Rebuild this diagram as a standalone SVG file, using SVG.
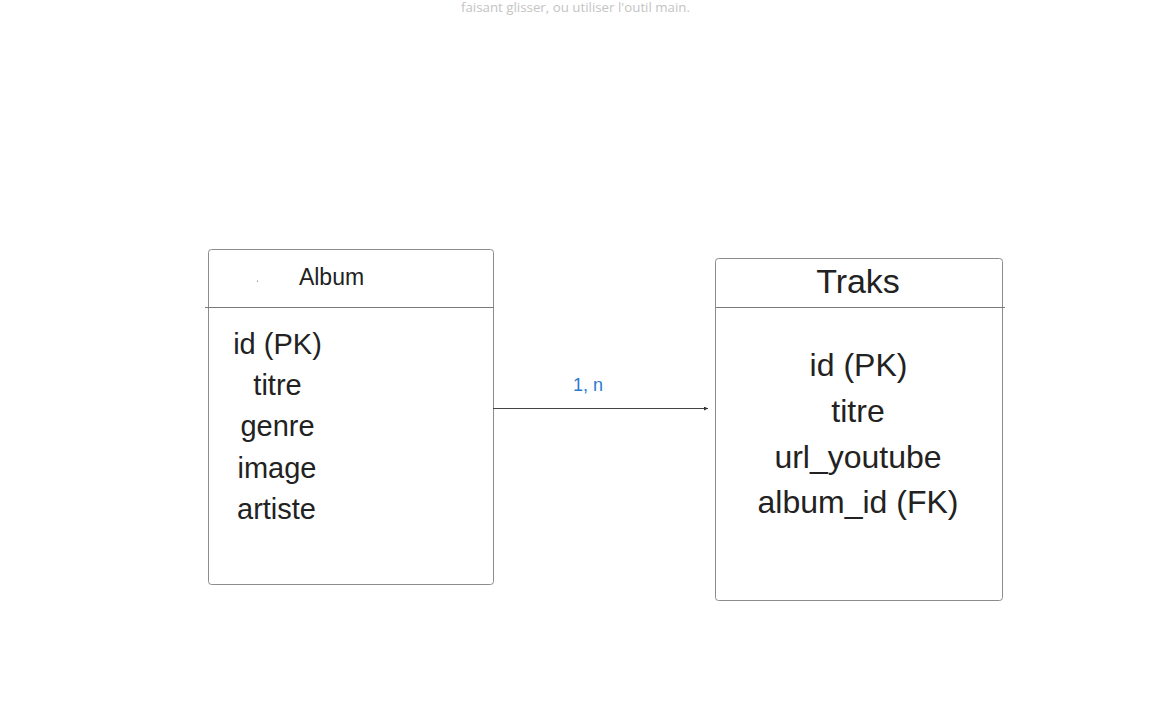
<svg xmlns="http://www.w3.org/2000/svg" width="1157" height="720" viewBox="0 0 1157 720">
<defs>
<style>
.box{fill:#fff;stroke:#8c8c8c;stroke-width:1}
.sep{stroke:#7a7a7a;stroke-width:1}
.t{font-family:"Liberation Sans",Arial,sans-serif;fill:#222;text-anchor:middle}
</style>
<marker id="arr" viewBox="0 0 4 4" refX="4" refY="2" markerWidth="4" markerHeight="4" orient="auto" markerUnits="userSpaceOnUse">
<path d="M0,0 L4,2 L0,4 z" fill="#333"/>
</marker>
</defs>
<rect width="1157" height="720" fill="#fff"/>
<text x="575.5" y="12" font-family="'Open Sans',sans-serif" font-size="13.3" fill="#c4c4c4" text-anchor="middle">faisant glisser, ou utiliser l'outil main.</text>
<g id="album">
<rect class="box" x="208.5" y="249.5" width="285" height="335" rx="3"/>
<line class="sep" x1="205" y1="307.5" x2="494" y2="307.5"/>
<circle cx="257.5" cy="281" r="0.6" fill="#555"/>
<text class="t" x="331.5" y="285" font-size="23">Album</text>
<text class="t" x="277.5" y="354" font-size="29">id (PK)</text>
<text class="t" x="277.5" y="395" font-size="29">titre</text>
<text class="t" x="277.5" y="436" font-size="29">genre</text>
<text class="t" x="277" y="478" font-size="29">image</text>
<text class="t" x="276.5" y="519" font-size="29">artiste</text>
</g>
<g id="traks">
<rect class="box" x="715.5" y="258.5" width="287" height="342" rx="3"/>
<line class="sep" x1="716" y1="307.5" x2="1005" y2="307.5"/>
<text class="t" x="858" y="293" font-size="34">Traks</text>
<text class="t" x="858.5" y="376" font-size="32">id (PK)</text>
<text class="t" x="858" y="422" font-size="32">titre</text>
<text class="t" x="858" y="468" font-size="32">url_youtube</text>
<text class="t" x="858" y="513" font-size="32">album_id (FK)</text>
</g>
<g id="connectors">
<line x1="493" y1="408.5" x2="708" y2="408.5" stroke="#444" stroke-width="1" marker-end="url(#arr)"/>
<text x="588" y="391" font-family="'Liberation Sans',Arial,sans-serif" font-size="18" fill="#2a7ad0" text-anchor="middle">1, n</text>
</g>
</svg>
